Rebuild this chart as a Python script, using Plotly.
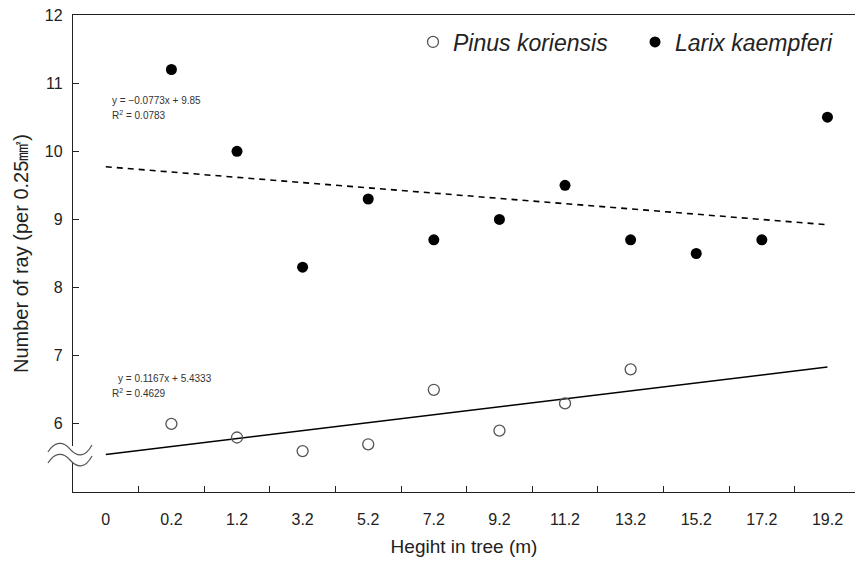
import plotly.graph_objects as go

heights = ["0", "0.2", "1.2", "3.2", "5.2", "7.2", "9.2", "11.2", "13.2", "15.2", "17.2", "19.2"]
pinus_h = ["0.2", "1.2", "3.2", "5.2", "7.2", "9.2", "11.2", "13.2"]
pinus_v = [6.0, 5.8, 5.6, 5.7, 6.5, 5.9, 6.3, 6.8]
larix_h = ["0.2", "1.2", "3.2", "5.2", "7.2", "9.2", "11.2", "13.2", "15.2", "17.2", "19.2"]
larix_v = [11.2, 10.0, 8.3, 9.3, 8.7, 9.0, 9.5, 8.7, 8.5, 8.7, 10.5]

# trendline equations (as printed on the chart); x = category index + 1
pinus_slope, pinus_int = 0.1167, 5.4333
larix_slope, larix_int = -0.0773, 9.85
trend_cats = ["0", "19.2"]
trend_x = [heights.index(c) + 1 for c in trend_cats]
pinus_trend = [pinus_int + pinus_slope * x for x in trend_x]
larix_trend = [larix_int + larix_slope * x for x in trend_x]

FONT = "Liberation Sans, Arial, sans-serif"
W, H = 855, 563
L, R, T, B = 73, 0, 15, 71

fig = go.Figure()
fig.add_trace(go.Scatter(x=trend_cats, y=pinus_trend, mode="lines",
                         line=dict(color="black", width=1.6), showlegend=False, hoverinfo="skip"))
fig.add_trace(go.Scatter(x=trend_cats, y=larix_trend, mode="lines",
                         line=dict(color="black", width=1.6, dash="6px,5px"), showlegend=False, hoverinfo="skip"))
fig.add_trace(go.Scatter(x=pinus_h, y=pinus_v, mode="markers", name="Pinus koriensis",
                         marker=dict(symbol="circle-open", size=11, color="#555555", line=dict(width=1.3, color="#555555"))))
fig.add_trace(go.Scatter(x=larix_h, y=larix_v, mode="markers", name="Larix kaempferi",
                         marker=dict(symbol="circle", size=11, color="black")))

pw, ph = W - L - R, H - T - B
def px(x):
    return (x - L) / pw
def py(y):
    return (H - B - y) / ph

shapes = []
# white gap in the y axis for the break
shapes.append(dict(type="rect", xref="paper", yref="paper", x0=px(70), x1=px(77), y0=py(462), y1=py(446),
                   fillcolor="white", line=dict(width=0), layer="above"))
for dy in (0, 11):
    p = "M {:.4f},{:.4f} C {:.4f},{:.4f} {:.4f},{:.4f} {:.4f},{:.4f} S {:.4f},{:.4f} {:.4f},{:.4f}".format(
        px(48), py(452 + dy), px(55), py(441 + dy), px(63), py(441 + dy), px(70), py(449 + dy),
        px(85), py(458 + dy), px(92), py(445 + dy))
    shapes.append(dict(type="path", xref="paper", yref="paper", path=p,
                       line=dict(color="#555555", width=1.2), layer="above"))

annotations = [
    dict(text="y = −0.0773x + 9.85", x=px(110), y=py(100), xref="paper", yref="paper", xanchor="left",
         yanchor="middle", showarrow=False, font=dict(size=10, color="#333333", family=FONT)),
    dict(text="R<sup>2</sup> = 0.0783", x=px(110), y=py(115), xref="paper", yref="paper", xanchor="left",
         yanchor="middle", showarrow=False, font=dict(size=10, color="#333333", family=FONT)),
    dict(text="y = 0.1167x + 5.4333", x=px(116), y=py(378), xref="paper", yref="paper", xanchor="left",
         yanchor="middle", showarrow=False, font=dict(size=10, color="#333333", family=FONT)),
    dict(text="R<sup>2</sup> = 0.4629", x=px(110), y=py(393), xref="paper", yref="paper", xanchor="left",
         yanchor="middle", showarrow=False, font=dict(size=10, color="#333333", family=FONT)),
]

fig.update_layout(
    width=W, height=H,
    margin=dict(l=L, r=R, t=T, b=B, autoexpand=False),
    paper_bgcolor="white", plot_bgcolor="white",
    font=dict(family=FONT, size=16, color="#222222"),
    shapes=shapes, annotations=annotations,
    legend=dict(orientation="h", x=px(413), y=py(42), xanchor="left", yanchor="middle",
                font=dict(size=23, style="italic", color="#222222"), entrywidth=177,
                bgcolor="rgba(0,0,0,0)", itemclick=False),
    xaxis=dict(type="category", categoryorder="array", categoryarray=heights,
               range=[-0.5, 11.42], tickson="boundaries", ticks="inside", ticklen=6, tickwidth=1,
               tickcolor="#222222", showline=True, linecolor="#222222", linewidth=1.3, mirror=True,
               showgrid=False, zeroline=False, tickfont=dict(size=16), ticklabelstandoff=13,
               title=dict(text="Hegiht in tree (m)", font=dict(size=19), standoff=12)),
    yaxis=dict(range=[5, 12], tickvals=[6, 7, 8, 9, 10, 11, 12], ticks="inside", ticklen=6,
               tickcolor="#222222", showline=True, linecolor="#222222", linewidth=1.3,
               showgrid=False, zeroline=False, tickfont=dict(size=16), ticklabelstandoff=6,
               title=dict(text="Number of ray (per 0.25㎟)", font=dict(size=20), standoff=10)),
)

fig.write_html("out.html")
